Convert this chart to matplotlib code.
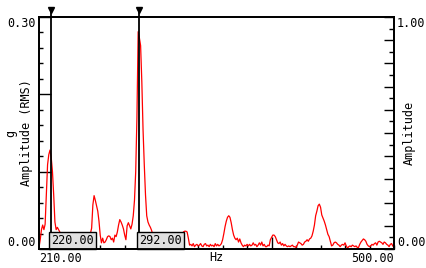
import numpy as np
import matplotlib
matplotlib.use('Agg')
import matplotlib.pyplot as plt
import matplotlib.transforms as mtransforms
from matplotlib.ticker import MultipleLocator, FixedLocator, NullFormatter, FuncFormatter

plt.rcParams['font.family'] = 'DejaVu Sans Mono'
plt.rcParams['font.size'] = 8.5

# ── Data (1 Hz bins) ──────────────────────────────────────────
freqs = np.arange(210, 501)
amp_rms = [
    0.002, 0.012, 0.025, 0.031, 0.025, 0.032, 0.070, 0.109, 0.122, 0.128,   # 210
    0.118, 0.100, 0.070, 0.035, 0.025, 0.028, 0.025, 0.022, 0.018, 0.014,   # 220
    0.012, 0.009, 0.011, 0.008, 0.010, 0.013, 0.009, 0.007, 0.010, 0.012,   # 230
    0.008, 0.011, 0.013, 0.010, 0.007, 0.009, 0.012, 0.010, 0.013, 0.015,   # 240
    0.014, 0.017, 0.020, 0.027, 0.057, 0.069, 0.063, 0.056, 0.049, 0.036,   # 250
    0.018, 0.008, 0.014, 0.008, 0.009, 0.012, 0.016, 0.017, 0.016, 0.012,   # 260
    0.014, 0.009, 0.018, 0.016, 0.022, 0.031, 0.038, 0.035, 0.031, 0.026,   # 270
    0.018, 0.012, 0.030, 0.034, 0.030, 0.026, 0.032, 0.043, 0.063, 0.100,   # 280
    0.170, 0.281, 0.273, 0.263, 0.216, 0.154, 0.109, 0.070, 0.043, 0.035,   # 290
    0.031, 0.028, 0.024, 0.018, 0.014, 0.011, 0.013, 0.009, 0.010, 0.012,   # 300
    0.008, 0.010, 0.013, 0.011, 0.009, 0.012, 0.014, 0.011, 0.013, 0.015,   # 310
    0.012, 0.014, 0.016, 0.018, 0.017, 0.019, 0.021, 0.020, 0.022, 0.023,   # 320
    0.023, 0.022, 0.014, 0.005, 0.006, 0.004, 0.007, 0.003, 0.005, 0.006,   # 330
    0.004, 0.005, 0.007, 0.004, 0.003, 0.006, 0.007, 0.004, 0.005, 0.003,   # 340
    0.006, 0.004, 0.005, 0.003, 0.007, 0.004, 0.006, 0.004, 0.005, 0.007,   # 350
    0.012, 0.020, 0.029, 0.036, 0.041, 0.043, 0.041, 0.034, 0.025, 0.018,   # 360
    0.014, 0.012, 0.014, 0.009, 0.013, 0.008, 0.005, 0.003, 0.005, 0.004,   # 370
    0.006, 0.004, 0.006, 0.004, 0.005, 0.008, 0.005, 0.006, 0.003, 0.005,   # 380
    0.008, 0.005, 0.009, 0.004, 0.006, 0.003, 0.003, 0.005, 0.004, 0.012,   # 390
    0.015, 0.018, 0.018, 0.016, 0.012, 0.008, 0.007, 0.009, 0.005, 0.007,   # 400
    0.004, 0.006, 0.004, 0.003, 0.004, 0.003, 0.004, 0.005, 0.003, 0.003,   # 410
    0.002, 0.005, 0.009, 0.008, 0.007, 0.005, 0.006, 0.009, 0.010, 0.012,   # 420
    0.010, 0.013, 0.014, 0.017, 0.023, 0.031, 0.043, 0.049, 0.056, 0.058,   # 430
    0.054, 0.044, 0.040, 0.036, 0.031, 0.025, 0.019, 0.016, 0.010, 0.004,   # 440
    0.005, 0.008, 0.009, 0.008, 0.006, 0.005, 0.003, 0.005, 0.006, 0.005,   # 450
    0.008, 0.004, 0.001, 0.003, 0.004, 0.003, 0.005, 0.004, 0.003, 0.004,   # 460
    0.002, 0.002, 0.006, 0.009, 0.011, 0.013, 0.012, 0.010, 0.006, 0.004,   # 470
    0.003, 0.004, 0.006, 0.005, 0.007, 0.008, 0.005, 0.009, 0.010, 0.009,   # 480
    0.008, 0.006, 0.009, 0.008, 0.006, 0.005, 0.003, 0.006, 0.007, 0.004,   # 490
    0.002,                                                                   # 500
]
cursor_freqs = [220, 292]
cursor_labels = ['220.00', '292.00']

PT = 0.72  # points per pixel at dpi 100

fig = plt.figure(figsize=(4.27, 2.68), dpi=100)
ax = fig.add_axes([39 / 427, 19 / 268, 355 / 427, 232 / 268])

ax.plot(freqs, amp_rms, color='red', lw=0.9, zorder=2)
ax.set_xlim(210, 500)
ax.set_ylim(0, 0.30)

for s in ax.spines.values():
    s.set_linewidth(1.3)

# x ticks
ax.xaxis.set_major_locator(FixedLocator([300, 400]))
ax.xaxis.set_minor_locator(MultipleLocator(20))
ax.xaxis.set_major_formatter(NullFormatter())
ax.tick_params(axis='x', which='major', direction='in', length=12 * PT, width=1)
ax.tick_params(axis='x', which='minor', direction='in', length=4 * PT, width=1)

# left y ticks
ax.yaxis.set_major_locator(FixedLocator([0, 0.1, 0.2, 0.3]))
ax.yaxis.set_minor_locator(MultipleLocator(0.02))
ax.yaxis.set_major_formatter(FuncFormatter(
    lambda v, p: f'{v:.2f}' if (abs(v) < 1e-9 or abs(v - 0.3) < 1e-9) else ''))
ax.tick_params(axis='y', which='major', direction='in', length=12 * PT, width=1, pad=2)
ax.tick_params(axis='y', which='minor', direction='in', length=4 * PT, width=1)
for lab in ax.get_yticklabels():
    if lab.get_text() == '0.30':
        lab.set_va('top')
    elif lab.get_text() == '0.00':
        lab.set_va('bottom')

ax.set_ylabel('g\nAmplitude (RMS)', linespacing=1.3)
ax.yaxis.set_label_coords(-0.017, 0.5)

ax.set_xlabel('Hz')
ax.xaxis.set_label_coords(0.5, -0.01)
ax.text(0.0, -0.015, '210.00', transform=ax.transAxes, ha='left', va='top')
ax.text(1.0, -0.015, '500.00', transform=ax.transAxes, ha='right', va='top')

# right axis
ax2 = ax.twinx()
ax2.set_ylim(0, 1)
ax2.yaxis.set_major_locator(MultipleLocator(0.1))
ax2.yaxis.set_minor_locator(MultipleLocator(0.05))
ax2.yaxis.set_major_formatter(FuncFormatter(
    lambda v, p: f'{v:.2f}' if (abs(v) < 1e-9 or abs(v - 1) < 1e-9) else ''))
ax2.tick_params(axis='y', which='major', direction='in', length=10 * PT, width=1, pad=2)
ax2.tick_params(axis='y', which='minor', direction='in', length=5 * PT, width=1)
for s in ax2.spines.values():
    s.set_linewidth(1.3)
for lab in ax2.get_yticklabels():
    if lab.get_text() == '1.00':
        lab.set_va('top')
    elif lab.get_text() == '0.00':
        lab.set_va('bottom')
ax2.set_ylabel('Amplitude')
ax2.yaxis.set_label_coords(1.025, 0.5)

# cursors
trans = mtransforms.blended_transform_factory(ax.transData, ax.transAxes)
for f, lab in zip(cursor_freqs, cursor_labels):
    ax.plot([f, f], [0, 1.03], color='black', lw=1.3, transform=trans,
            clip_on=False, zorder=3)
    ax.plot([f], [1.032], marker='v', color='black', ms=5, transform=trans,
            clip_on=False, zorder=4)
    ax.annotate(lab, xy=(f, 0), xycoords=trans, xytext=(0, 2),
                textcoords='offset pixels', ha='left', va='bottom', zorder=5,
                bbox=dict(boxstyle='square,pad=0.2', fc='#e0e0e0', ec='black', lw=1))

fig.savefig('out.png', dpi=100)
